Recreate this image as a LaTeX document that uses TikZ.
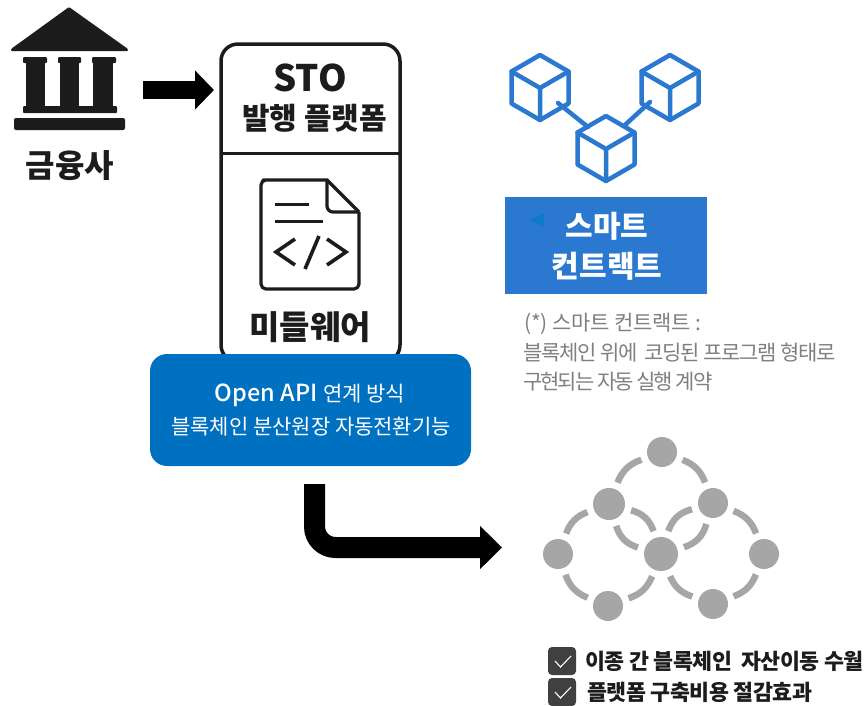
\documentclass[tikz,border=0pt]{standalone}
\usepackage{fontspec}
\setmainfont{Noto Sans CJK KR}
\newfontfamily\krmed{Noto Sans CJK KR Medium}
\newfontfamily\krtighta[LetterSpace=-1]{Noto Sans CJK KR}
\newfontfamily\krtight[LetterSpace=-6]{Noto Sans CJK KR}
\newfontfamily\krtightc[LetterSpace=-9.5]{Noto Sans CJK KR}
\newfontfamily\krboldtight[LetterSpace=-2]{Noto Sans CJK KR}
\usetikzlibrary{arrows.meta,shapes.geometric}
\definecolor{inkdark}{HTML}{1C1C1C}
\definecolor{apiblue}{HTML}{0070C0}
\definecolor{cubeblue}{HTML}{2B78D0}
\definecolor{tribluex}{HTML}{0C7ACB}
\definecolor{netgrey}{HTML}{A6A6A6}
\definecolor{notegrey}{HTML}{808080}
\definecolor{chkgrey}{HTML}{404040}
\tikzset{
  x=1pt,y=-1pt,
  blockarrow/.style={line width=#1,draw=black},
  label/.style={inner sep=0pt,text=inkdark,align=center},
  cube/.style={draw=cubeblue,line width=4.5pt,line join=round,line cap=round},
  netnode/.style={circle,fill=netgrey,inner sep=0pt,minimum size=#1,outer sep=7pt},
  netlink/.style={draw=netgrey,line width=6.5pt},
  checkbox/.style={fill=chkgrey,rounded corners=4pt,minimum width=28pt,minimum height=28pt,inner sep=0pt},
  checkmark/.style={draw=white,line width=1.1pt},
  chktext/.style={inner sep=0pt,anchor=west,text=inkdark},
  notetext/.style={inner sep=0pt,anchor=west,text=notegrey},
}
\newcommand{\cubeat}[2]{%
  \draw[cube] (#1,#2) -- ++(28.5,16.5) -- ++(0,32) -- ++(-28.5,16.5) -- ++(-28.5,-16.5) -- ++(0,-32) -- cycle;
  \draw[cube] (#1-28.5,#2+16.5) -- (#1,#2+33) -- (#1+28.5,#2+16.5) (#1,#2+33) -- (#1,#2+65);
}
\begin{document}
\begin{tikzpicture}
\useasboundingbox[fill=white] (0,0) rectangle (868,705);

% bank icon
\fill[inkdark,rounded corners=1pt] (69,7) -- (128,49) -- (128,51) -- (11,51) -- (11,49) -- cycle;
\foreach \a/\b/\c/\d in {23/47/26/45,58/81/60/79,92/116/93/113}{
  \fill[inkdark,rounded corners=1pt] (\a,57) rectangle (\b,63);
  \fill[inkdark] (\c,60) rectangle (\d,110);
}
\fill[inkdark,rounded corners=1pt] (23,106) rectangle (117,113);
\fill[inkdark,rounded corners=2pt] (14,118) rectangle (125,130);
\node[label,font=\bfseries\fontsize{32}{32}\selectfont] (bank) at (70,166) {금융사};

% platform box
\draw[draw=inkdark,line width=3.5pt,rounded corners=17pt] (221,44) rectangle (400,362);
\draw[draw=inkdark,line width=3pt] (221,153) -- (400,153);
\node[label,font=\bfseries\fontsize{36.5}{36.5}\selectfont] (sto) at (310,78) {STO};
\node[label,font=\bfseries\fontsize{30}{30}\selectfont] (issue) at (314.5,118) {발행 플랫폼};
\node[label,font=\bfseries\fontsize{33}{33}\selectfont] (mw) at (310,327) {미들웨어};

% document icon
\draw[draw=inkdark,line width=3.2pt,line join=round,rounded corners=5pt]
  (328,180) -- (268,180) -- (261,180) -- (261,289) -- (359,289) -- (359,212);
\draw[draw=inkdark,line width=3.2pt,line join=round] (327,180) -- (359,212);
\draw[draw=inkdark,line width=3.2pt,rounded corners=6pt] (327,180) -- (327,212) -- (359,212);
\draw[draw=inkdark,line width=3pt] (275,204) -- (309,204) (275,221) -- (323,221);
\draw[draw=inkdark,line width=3.6pt] (295,239) -- (276,252) -- (295,265)
  (319,236) -- (305,269) (327,239) -- (346,252) -- (327,265);

% API box
\node[fill=apiblue,rounded corners=17pt,minimum width=321pt,minimum height=112pt,inner sep=0pt] (api) at (310.5,410) {};
\node[inner sep=0pt,text=white,font=\fontsize{23.5}{23.5}\selectfont] (apit1) at (310,395) {{\krmed Open API} {\fontsize{21}{21}\selectfont 연계 방식}};
\node[inner sep=0pt,text=white,font=\fontsize{21}{21}\selectfont] (apit2) at (311,427) {블록체인 분산원장 자동전환기능};

% arrows
\coordinate (a1s) at (143,90);
\coordinate (a1e) at (214,90);
\draw[blockarrow=18pt,-{Triangle[length=19pt,width=38pt]}] (a1s) -- (a1e);
\coordinate (a2s) at (314.5,484);
\coordinate (a2m) at (314.5,547.5);
\coordinate (a2e) at (502,547.5);
\draw[blockarrow=21pt,rounded corners=21pt,-{Triangle[length=22pt,width=42pt]}] (a2s) -- (a2m) -- (a2e);

% cubes
\draw[cube] (558,103) -- (588,127);
\draw[cube] (650,102) -- (625,125);
\cubeat{540}{55}
\cubeat{670}{55}
\cubeat{606}{116}

% smart contract box
\node[fill=cubeblue,minimum width=202pt,minimum height=97pt,inner sep=0pt] (sc) at (606,245.5) {};
\fill[tribluex] (530,220) -- (544,213) -- (544,227) -- cycle;
\node[inner sep=0pt,text=white,font=\bfseries\fontsize{30}{30}\selectfont] (sc1) at (607,226) {스마트};
\node[inner sep=0pt,text=white,font=\bfseries\fontsize{30}{30}\selectfont] (sc2) at (607,266) {컨트랙트};

% note
\node[notetext,font=\krtighta\fontsize{21}{21}\selectfont] (n1) at (524,324) {(*) 스마트 컨트랙트 :};
\node[notetext,font=\krtight\fontsize{21}{21}\selectfont] (n2) at (523,353) {블록체인 위에 \ 코딩된 프로그램 형태로};
\node[notetext,font=\krtightc\fontsize{21}{21}\selectfont] (n3) at (523,382) {구현되는 자동 실행 계약};

% network
\node[netnode=30pt] (top) at (662,452) {};
\node[netnode=32pt] (ul) at (609,504) {};
\node[netnode=30pt] (ur) at (713,503) {};
\node[netnode=30pt] (left) at (558,554) {};
\node[netnode=34pt] (mid) at (661,554) {};
\node[netnode=30pt] (right) at (764,554) {};
\node[netnode=30pt] (bl) at (608,606) {};
\node[netnode=30pt] (br) at (713,604) {};
\draw[netlink] (top) to[bend right=24] (ul);
\draw[netlink] (top) to[bend left=24] (ur);
\draw[netlink] (ul) to[bend right=24] (left);
\draw[netlink] (ur) to[bend left=24] (right);
\draw[netlink] (left) to[bend right=24] (bl);
\draw[netlink] (bl) to[bend right=24] (mid);
\draw[netlink] (mid) to[bend right=24] (br);
\draw[netlink] (br) to[bend right=24] (right);
\draw[netlink] (ul) to[bend left=28] (mid);
\draw[netlink] (ul) to[bend right=28] (mid);
\draw[netlink] (ur) to[bend right=28] (mid);
\draw[netlink] (ur) to[bend left=28] (mid);

% checks
\node[checkbox] (c1) at (562,661) {};
\node[checkbox] (c2) at (562,692) {};
\draw[checkmark] (555,661) -- (560.5,667) -- (571,656);
\draw[checkmark] (555,692) -- (560.5,698) -- (571,687);
\node[chktext,font=\krboldtight\bfseries\fontsize{21.7}{21.7}\selectfont] (t1) at (585,661) {이종 간 블록체인 \ 자산이동 수월};
\node[chktext,font=\krboldtight\bfseries\fontsize{21.7}{21.7}\selectfont] (t2) at (587,692) {플랫폼 구축비용 절감효과};
\end{tikzpicture}
\end{document}
